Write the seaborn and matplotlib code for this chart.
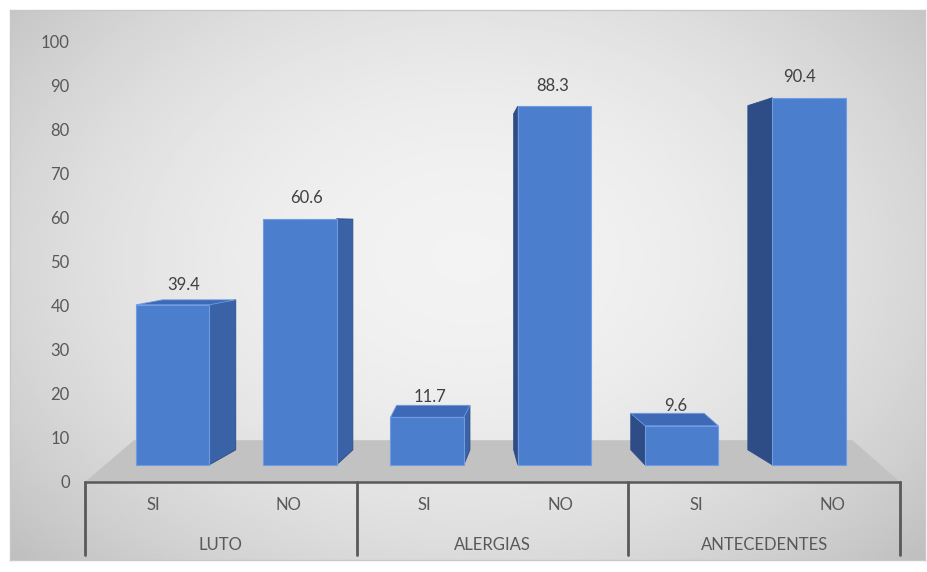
#!/usr/bin/env python3

# Bar chart LUTO / ALERGIAS / ANTECEDENTES (SI / NO), with a fake 3D look.

import numpy as np
import pandas as pd

import seaborn as sns
import matplotlib.pyplot as plt
from matplotlib.patches import Polygon

grupos = ["LUTO", "ALERGIAS", "ANTECEDENTES"]
respuestas = ["SI", "NO"]
valores = [39.4, 60.6, 11.7, 88.3, 9.6, 90.4]
yticks = list(range(0, 101, 10))

W, H = 927, 572
GRIS_TXT = "#595959"


def main():
    sns.set_theme(style="white")
    plt.rcParams['font.family'] = ['Lato', 'DejaVu Sans']

    df = pd.DataFrame({
        'grupo': [g for g in grupos for _ in respuestas],
        'resp': respuestas * len(grupos),
        'valor': valores,
    })
    df['clave'] = df['grupo'] + "-" + df['resp']

    fig = plt.figure(figsize=(W / 100, H / 100), dpi=100)
    fig.patch.set_facecolor("white")

    # Gradient background of the chart area.
    bg = fig.add_axes([10 / W, 12 / H, 915 / W, 550 / H])
    yy, xx = np.mgrid[0:1:200j, 0:1:300j]
    r2 = ((xx - 0.5) / 0.5) ** 2 + ((yy - 0.45) / 0.6) ** 2
    grad = np.clip(0.95 - 0.11 * r2, 0, 1)
    bg.imshow(grad, cmap="gray", vmin=0, vmax=1, aspect="auto",
              extent=[0, 1, 0, 1])
    bg.set_xticks([])
    bg.set_yticks([])
    for s in bg.spines.values():
        s.set_color("#c8c8c8")
        s.set_linewidth(1)

    ax = fig.add_axes([85 / W, 90 / H, 815 / W, 440 / H])
    ax.set_facecolor("none")

    sns.barplot(data=df, x='clave', y='valor', color="#4C7ECE",
                saturation=1, width=0.54, edgecolor="#6F9BE3",
                linewidth=0.8, ax=ax, zorder=4)

    n = len(valores)
    ax.set_xlim(-0.5, n - 0.5)
    ax.set_ylim(0, 100)

    # Floor of the 3D chart.
    piso = Polygon([(-0.5, 0), (n - 0.5, 0), (n - 0.5 - 0.35, 9.5),
                    (-0.5 + 0.36, 9.5)], closed=True,
                   facecolor="#c2c2c2", edgecolor="none", zorder=1)
    ax.add_patch(piso)

    # Perspective: front face is a bit smaller than the axis scale,
    # faces going back rise towards the eye level.
    base = 3.9
    escala = 0.923

    def prof(y):
        return 0.0625 * (58.4 - y)

    for i, p in enumerate(ax.patches[:n]):
        v = valores[i]
        top = base + escala * v
        off = 0.063 * (2.3 - i)
        dx = 0.075 * (2.6 - i)
        p.set_x(p.get_x() + off)
        p.set_y(base)
        p.set_height(top - base)
        xl, xr = p.get_x(), p.get_x() + p.get_width()
        xe = xr if dx > 0 else xl
        lado = Polygon([(xe, base), (xe, top), (xe + dx, top + prof(top)),
                        (xe + dx, base + prof(base))], closed=True,
                       facecolor="#3A62A6" if dx > 0 else "#2E4C85",
                       edgecolor="#2E4C85", linewidth=0.6, zorder=3)
        ax.add_patch(lado)
        if prof(top) > 0:
            tapa = Polygon([(xl, top), (xr, top), (xr + dx, top + prof(top)),
                            (xl + dx, top + prof(top))], closed=True,
                           facecolor="#3D69B6", edgecolor="#6F9BE3",
                           linewidth=0.6, zorder=3)
            ax.add_patch(tapa)
        ax.text((xl + xr) / 2 + dx * 0.4, top + 2.8, f"{v}", ha="center",
                va="bottom", fontsize=12, color="#404040", zorder=6)

    # Axes styling.
    sns.despine(ax=ax, left=True, top=True, right=True)
    ax.spines['bottom'].set_color(GRIS_TXT)
    ax.spines['bottom'].set_linewidth(1.8)
    ax.spines['bottom'].set_zorder(5)
    ax.set_yticks(yticks)
    ax.set_yticklabels([str(t) for t in yticks])
    ax.set_xticks(range(n))
    ax.set_xticklabels(df['resp'])
    ax.tick_params(axis='y', length=0, pad=11, labelsize=12,
                   labelcolor=GRIS_TXT)
    ax.tick_params(axis='x', length=0, pad=11, labelsize=12,
                   labelcolor=GRIS_TXT)
    ax.set_xlabel("")
    ax.set_ylabel("")
    ax.grid(False)

    # Group separators and group labels under the axis.
    trans = ax.get_xaxis_transform()
    k = len(respuestas)
    for j in range(len(grupos) + 1):
        xs = j * k - 0.5
        ax.plot([xs, xs], [0, -73 / 440], color=GRIS_TXT, lw=2,
                transform=trans, clip_on=False)
    for j, g in enumerate(grupos):
        ax.text(j * k + (k - 1) / 2, -63 / 440, g, transform=trans,
                ha="center", va="center", fontsize=12, color=GRIS_TXT)

    plt.savefig("out.png", dpi=100)


if __name__ == '__main__':
    main()
